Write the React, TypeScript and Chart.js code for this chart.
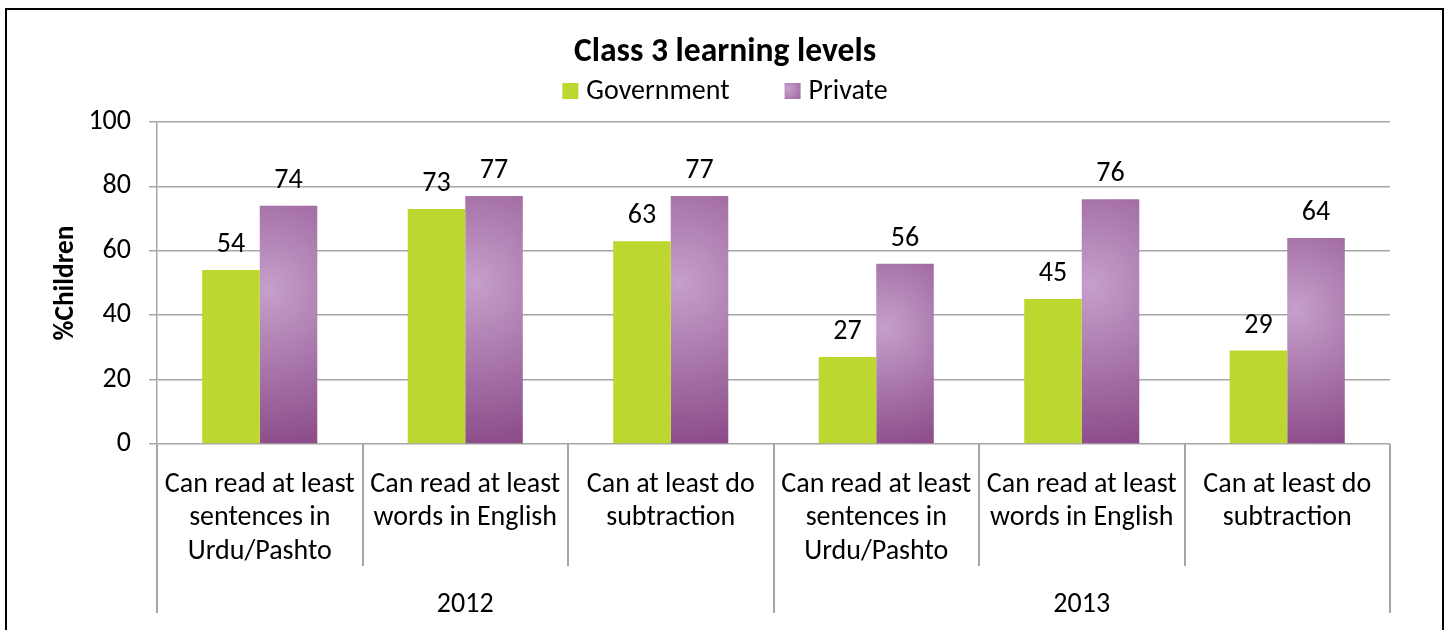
import React, { useEffect, useRef } from 'react';
import { Chart, registerables } from 'chart.js';

Chart.register(...registerables);

const chartTitle = 'Class 3 learning levels';
const yAxisTitle = '%Children';
const categories: string[][] = [
  ['Can read at least', 'sentences in', 'Urdu/Pashto'],
  ['Can read at least', 'words in English'],
  ['Can at least do', 'subtraction'],
  ['Can read at least', 'sentences in', 'Urdu/Pashto'],
  ['Can read at least', 'words in English'],
  ['Can at least do', 'subtraction'],
];
const years = ['2012', '2013'];
const yearSpans = [3, 3];
const seriesNames = ['Government', 'Private'];
const government = [54, 73, 63, 27, 45, 29];
const privateSchools = [74, 77, 77, 56, 76, 64];
const yTicks = [0, 20, 40, 60, 80, 100];

const FAMILY = "Carlito, Lato, 'Noto Sans', sans-serif";
const GREEN = '#bdd731';
const GRID = '#a6a6a6';
const CAT_PCT = 0.56;

function fitSize(text: string, target: number, base: number, weight = 'normal') {
  const c = document.createElement('canvas').getContext('2d')!;
  c.font = `${weight} ${base}px ${FAMILY}`;
  const w = c.measureText(text).width;
  return (base * target) / w;
}

export default function App() {
  const ref = useRef<HTMLCanvasElement>(null);

  useEffect(() => {
    if (!ref.current) return;
    const fs = Math.round(fitSize('Can read at least', 190, 27) * 10) / 10;
    const titleFs = Math.round(fitSize(chartTitle, 302, 33, 'bold') * 10) / 10;
    const yTitleFs = Math.round(fitSize(yAxisTitle, 115, 27, 'bold') * 10) / 10;

    const purpleFill = (ctx: any) => {
      const chart = ctx.chart;
      const xs = chart.scales?.x;
      const ys = chart.scales?.y;
      if (ctx.type !== 'data' || !xs || !ys || !chart.chartArea) return '#a572a8';
      const i = ctx.dataIndex;
      const step = (xs.right - xs.left) / categories.length;
      const w = (step * CAT_PCT) / 2;
      const left = xs.getPixelForValue(i);
      const top = ys.getPixelForValue(ctx.raw);
      const bottom = ys.getPixelForValue(0);
      const h = Math.max(bottom - top, 1);
      const cx = left + 0.15 * w;
      const cy = top + 0.35 * h;
      const r = Math.max(Math.hypot(0.85 * w, 0.65 * h), 1);
      const g = chart.ctx.createRadialGradient(cx, cy, 0, cx, cy, r);
      g.addColorStop(0, '#c69fcb');
      g.addColorStop(0.45, '#ab79ad');
      g.addColorStop(1, '#8a4a88');
      return g;
    };

    const decor = {
      id: 'decor',
      afterDraw(chart: any) {
        const ctx = chart.ctx as CanvasRenderingContext2D;
        const xs = chart.scales.x;
        const area = chart.chartArea;
        ctx.save();

        // outer frame
        ctx.strokeStyle = '#000';
        ctx.lineWidth = 2;
        ctx.strokeRect(6, 9, 1437, 700);

        // title
        ctx.fillStyle = '#000';
        ctx.textAlign = 'center';
        ctx.textBaseline = 'middle';
        ctx.font = `bold ${titleFs}px ${FAMILY}`;
        ctx.fillText(chartTitle, 725, 53);

        // legend
        ctx.font = `normal ${fs}px ${FAMILY}`;
        const box = 16;
        const gap = 8;
        const itemGap = 55;
        const w1 = ctx.measureText(seriesNames[0]).width;
        const w2 = ctx.measureText(seriesNames[1]).width;
        const total = box + gap + w1 + itemGap + box + gap + w2;
        let lx = 725 - total / 2;
        const ly = 91;
        ctx.textAlign = 'left';
        ctx.fillStyle = GREEN;
        ctx.fillRect(lx, ly - box / 2, box, box);
        ctx.fillStyle = '#000';
        ctx.fillText(seriesNames[0], lx + box + gap, ly + 1);
        lx += box + gap + w1 + itemGap;
        const lg = ctx.createRadialGradient(lx + 4, ly - 2, 0, lx + 4, ly - 2, 18);
        lg.addColorStop(0, '#c69fcb');
        lg.addColorStop(1, '#9a5f9a');
        ctx.fillStyle = lg;
        ctx.fillRect(lx, ly - box / 2, box, box);
        ctx.fillStyle = '#000';
        ctx.fillText(seriesNames[1], lx + box + gap, ly + 1);

        // y title
        ctx.save();
        ctx.translate(66, (area.top + area.bottom) / 2);
        ctx.rotate(-Math.PI / 2);
        ctx.textAlign = 'center';
        ctx.textBaseline = 'middle';
        ctx.font = `bold ${yTitleFs}px ${FAMILY}`;
        ctx.fillText(yAxisTitle, 0, 0);
        ctx.restore();

        // data labels
        ctx.font = `normal ${fs}px ${FAMILY}`;
        ctx.textAlign = 'center';
        ctx.textBaseline = 'alphabetic';
        ctx.fillStyle = '#000';
        chart.data.datasets.forEach((ds: any, di: number) => {
          const meta = chart.getDatasetMeta(di);
          meta.data.forEach((el: any, i: number) => {
            ctx.fillText(String(ds.data[i]), el.x, el.y - 18);
          });
        });

        // category separators
        const n = categories.length;
        const bounds: number[] = [];
        for (let i = 0; i <= n; i++) {
          if (i === 0) bounds.push(xs.left);
          else if (i === n) bounds.push(xs.right);
          else bounds.push((xs.getPixelForValue(i - 1) + xs.getPixelForValue(i)) / 2);
        }
        const groupEdges = new Set<number>([0]);
        let acc = 0;
        yearSpans.forEach((s) => {
          acc += s;
          groupEdges.add(acc);
        });
        ctx.strokeStyle = GRID;
        ctx.lineWidth = 2;
        const axisY = area.bottom;
        bounds.forEach((bx, i) => {
          const x = Math.round(bx);
          ctx.beginPath();
          ctx.moveTo(x, axisY);
          ctx.lineTo(x, groupEdges.has(i) ? axisY + 169 : axisY + 122);
          ctx.stroke();
        });

        // year labels
        ctx.textBaseline = 'middle';
        ctx.fillStyle = '#000';
        let start = 0;
        years.forEach((yr, k) => {
          const end = start + yearSpans[k];
          const cx = (bounds[start] + bounds[end]) / 2;
          ctx.fillText(yr, cx, axisY + 161);
          start = end;
        });

        ctx.restore();
      },
    };

    const chart = new Chart(ref.current, {
      type: 'bar',
      data: {
        labels: categories,
        datasets: [
          { label: seriesNames[0], data: government, backgroundColor: GREEN, borderWidth: 0 },
          { label: seriesNames[1], data: privateSchools, backgroundColor: purpleFill as any, borderWidth: 0 },
        ],
      },
      options: {
        responsive: true,
        maintainAspectRatio: false,
        animation: false,
        layout: { padding: { left: 0, top: 122, right: 55, bottom: 0 } },
        datasets: { bar: { categoryPercentage: CAT_PCT, barPercentage: 1 } },
        plugins: {
          legend: { display: false },
          title: { display: false },
          tooltip: { enabled: false },
        },
        scales: {
          x: {
            grid: { display: false },
            border: { display: false },
            ticks: {
              color: '#000',
              font: { family: FAMILY, size: fs, lineHeight: 33.5 / fs },
              padding: 16,
              autoSkip: false,
              maxRotation: 0,
              minRotation: 0,
            },
            afterFit: (s: any) => {
              s.height = 186;
            },
          },
          y: {
            min: 0,
            max: 100,
            afterBuildTicks: (s: any) => {
              s.ticks = yTicks.map((v) => ({ value: v }));
            },
            ticks: { color: '#000', font: { family: FAMILY, size: fs }, padding: 18 },
            grid: { color: GRID, lineWidth: 1.5, tickLength: 8, tickColor: GRID },
            border: { color: GRID, width: 1.5 },
            afterFit: (s: any) => {
              s.width = 157;
            },
          },
        },
      },
      plugins: [decor],
    });
    return () => chart.destroy();
  }, []);

  return (
    <div style={{ position: 'absolute', left: 0, top: 0, width: 1445, height: 630, background: '#fff' }}>
      <canvas ref={ref} />
    </div>
  );
}
